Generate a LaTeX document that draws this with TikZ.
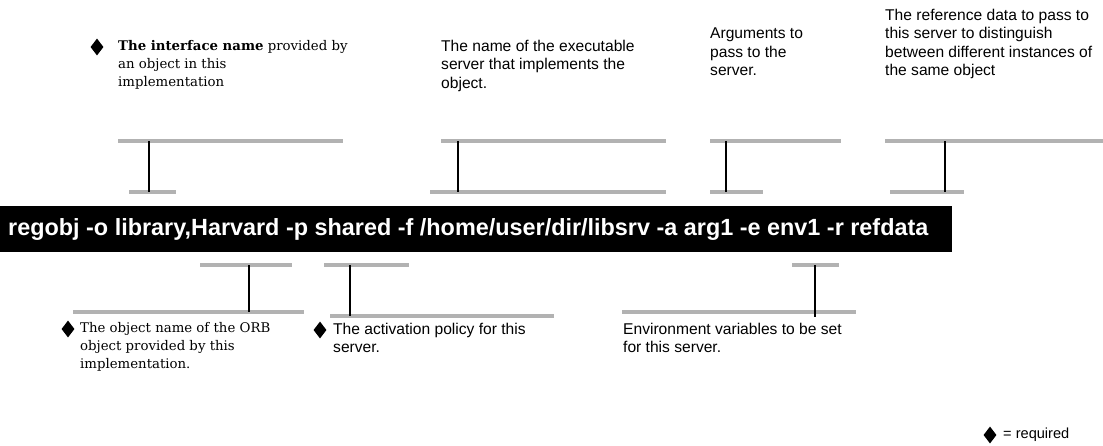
\documentclass[tikz,border=0pt]{standalone}
\usepackage{fontspec}
\setmainfont{DejaVu Serif}
\setsansfont{Liberation Sans}
\usetikzlibrary{shapes.geometric}
\begin{document}
\begin{tikzpicture}[x=1pt,y=-1pt,
  guide/.style={draw=black!30, line width=4.5pt},
  stem/.style={draw=black, line width=1.1pt},
  serifnote/.style={anchor=north west, inner sep=0pt, align=left,
    font=\fontsize{13.3}{18}\selectfont},
  sansnote/.style={anchor=north west, inner sep=0pt, align=left,
    font=\sffamily\fontsize{15.6}{18.3}\selectfont},
  req/.style={diamond, fill=black, inner sep=0pt, minimum width=13pt, minimum height=17pt}]
\useasboundingbox (0,0) rectangle (1103,445);

% command line
\node[fill=black, minimum width=952pt, minimum height=46pt, anchor=north west, inner sep=0pt] (cmdbar) at (0,206) {};
\node[anchor=west, inner sep=0pt, text=white, font=\sffamily\bfseries\fontsize{23.4}{26}\selectfont] (cmd) at (8,229)
  {regobj -o library,Harvard -p shared -f /home/user/dir/libsrv -a arg1 -e env1 -r refdata};

% --- brackets above the command
% interface name
\coordinate (a1) at (118,141); \coordinate (a2) at (343,141);
\coordinate (a3) at (129,192); \coordinate (a4) at (176,192);
\coordinate (at) at (149,141); \coordinate (ab) at (149,192);
\draw[guide] (a1) -- (a2); \draw[guide] (a3) -- (a4); \draw[stem] (at) -- (ab);
% server executable
\coordinate (b1) at (441,141); \coordinate (b2) at (666,141);
\coordinate (b3) at (430,192); \coordinate (b4) at (666,192);
\coordinate (bt) at (458,141); \coordinate (bb) at (458,192);
\draw[guide] (b1) -- (b2); \draw[guide] (b3) -- (b4); \draw[stem] (bt) -- (bb);
% arguments
\coordinate (c1) at (710,141); \coordinate (c2) at (841,141);
\coordinate (c3) at (710,192); \coordinate (c4) at (763,192);
\coordinate (ct) at (726,141); \coordinate (cb) at (726,192);
\draw[guide] (c1) -- (c2); \draw[guide] (c3) -- (c4); \draw[stem] (ct) -- (cb);
% reference data
\coordinate (d1) at (885,141); \coordinate (d2) at (1103,141);
\coordinate (d3) at (890,192); \coordinate (d4) at (964,192);
\coordinate (dt) at (945,141); \coordinate (db) at (945,192);
\draw[guide] (d1) -- (d2); \draw[guide] (d3) -- (d4); \draw[stem] (dt) -- (db);

% --- brackets below the command
% object name
\coordinate (e1) at (200,265); \coordinate (e2) at (292,265);
\coordinate (e3) at (73,312); \coordinate (e4) at (304,312);
\coordinate (et) at (249,265); \coordinate (eb) at (249,312);
\draw[guide] (e1) -- (e2); \draw[guide] (e3) -- (e4); \draw[stem] (et) -- (eb);
% activation policy
\coordinate (f1) at (324,265); \coordinate (f2) at (409,265);
\coordinate (f3) at (330,316); \coordinate (f4) at (554,316);
\coordinate (ft) at (350,265); \coordinate (fb) at (350,316);
\draw[guide] (f1) -- (f2); \draw[guide] (f3) -- (f4); \draw[stem] (ft) -- (fb);
% environment variables
\coordinate (g1) at (792,265); \coordinate (g2) at (839,265);
\coordinate (g3) at (622,312); \coordinate (g4) at (856,312);
\coordinate (gt) at (815,265); \coordinate (gb) at (815,317);
\draw[guide] (g1) -- (g2); \draw[guide] (g3) -- (g4); \draw[stem] (gt) -- (gb);

% --- notes
\node[req] (r1) at (97,47) {};
\node[serifnote] (n1) at (118,40) {\textbf{The interface name} provided by\\an object in this\\implementation};
\node[sansnote] (n2) at (441,40) {The name of the executable\\server that implements the\\object.};
\node[sansnote] (n3) at (710,28) {Arguments to\\pass to the\\server.};
\node[sansnote] (n4) at (885,9) {The reference data to pass to\\this server to distinguish\\between different instances of\\the same object};

\node[req] (r2) at (68,329) {};
\node[serifnote] (n5) at (80,322) {The object name of the ORB\\object provided by this\\implementation.};
\node[req] (r3) at (320,330) {};
\node[sansnote] (n6) at (333,323) {The activation policy for this\\server.};
\node[sansnote] (n7) at (623,323) {Environment variables to be set\\for this server.};

% legend
\node[req] (r4) at (990,435) {};
\node[anchor=west, inner sep=0pt, font=\sffamily\fontsize{14.6}{18}\selectfont] (legend) at (1003,435) {= required};
\end{tikzpicture}
\end{document}
